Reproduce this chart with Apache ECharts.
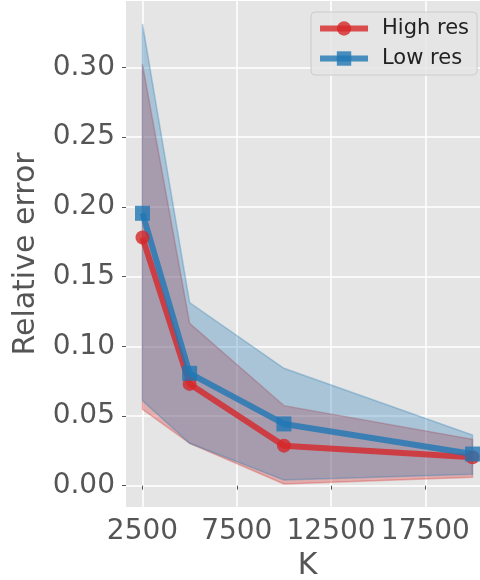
<!DOCTYPE html>
<html>
<head>
<meta charset="utf-8">
<script src="https://cdn.jsdelivr.net/npm/echarts@6/dist/echarts.min.js"></script>
<style>
html,body{margin:0;padding:0;background:#fff;}
#chart{width:480px;height:580px;}
</style>
</head>
<body>
<div id="chart"></div>
<script>
const kValues = [2500, 5000, 10000, 20000];
const highMean = [0.178, 0.073, 0.0287, 0.0204];
const highUpper = [0.3023, 0.1165, 0.0574, 0.0333];
const highLower = [0.0548, 0.0304, 0.0012, 0.0060];
const lowMean = [0.1954, 0.0806, 0.0443, 0.0227];
const lowUpper = [0.3312, 0.1313, 0.0842, 0.0364];
const lowLower = [0.0610, 0.0304, 0.0041, 0.0082];
const xTicks = [2500, 7500, 12500, 17500];
const yTicks = [0, 0.05, 0.10, 0.15, 0.20, 0.25, 0.30];

const RED = '#d62728', BLUE = '#1f77b4';
const FONT = '"DejaVu Sans", sans-serif';

function band(upper, lower, color, name) {
  return {
    type: 'custom',
    name: name + ' band',
    z: 1,
    silent: true,
    data: kValues.map((k, i) => [k, upper[i], lower[i]]),
    renderItem: function (params, api) {
      if (params.dataIndex !== 0) return null;
      const pts = [];
      for (let i = 0; i < kValues.length; i++) pts.push(api.coord([kValues[i], upper[i]]));
      for (let i = kValues.length - 1; i >= 0; i--) pts.push(api.coord([kValues[i], lower[i]]));
      return {
        type: 'polygon',
        shape: { points: pts },
        style: { fill: color, opacity: 0.3, stroke: color, lineWidth: 1.5 }
      };
    }
  };
}

function line(name, vals, color, symbol, size) {
  return {
    type: 'line',
    name: name,
    z: 3,
    data: kValues.map((k, i) => [k, vals[i]]),
    symbol: symbol,
    symbolSize: size,
    showSymbol: true,
    lineStyle: { color: color, width: 6, opacity: 0.8 },
    itemStyle: { color: color, opacity: 0.8 },
    emphasis: { disabled: true }
  };
}

const chart = echarts.init(document.getElementById('chart'), null, { renderer: 'canvas' });
chart.setOption({
  animation: false,
  backgroundColor: '#ffffff',
  grid: {
    left: 126, top: 1, width: 363, height: 506,
    outerBoundsMode: 'none', containLabel: false,
    show: true, backgroundColor: '#e5e5e5', borderWidth: 0
  },
  xAxis: {
    type: 'value', min: 1625, max: 20875,
    name: 'K', nameLocation: 'middle', nameGap: 44,
    nameTextStyle: { fontFamily: FONT, fontSize: 30, color: '#555555' },
    axisLine: { show: false },
    axisTick: { show: true, length: 4, lineStyle: { color: '#555555', width: 1 }, customValues: xTicks },
    axisLabel: { fontFamily: FONT, fontSize: 28, color: '#555555', margin: 11, customValues: xTicks,
      hideOverlap: false, showMinLabel: true, showMaxLabel: true,
      formatter: v => String(v) },
    splitLine: { show: true, lineStyle: { color: '#ffffff', width: 1.5 } }
  },
  yAxis: {
    type: 'value', min: -0.0153, max: 0.3477,
    name: 'Relative error', nameLocation: 'middle', nameGap: 85,
    nameTextStyle: { fontFamily: FONT, fontSize: 30, color: '#555555' },
    axisLine: { show: false },
    axisTick: { show: true, length: 4, lineStyle: { color: '#555555', width: 1 }, customValues: yTicks },
    axisLabel: { fontFamily: FONT, fontSize: 28, color: '#555555', margin: 11, customValues: yTicks,
      formatter: v => v.toFixed(2) },
    splitLine: { show: true, lineStyle: { color: '#ffffff', width: 1.5 } }
  },
  legend: {
    data: ['High res', 'Low res'],
    orient: 'vertical',
    right: 3, top: 12,
    padding: [6, 8, 6, 6],
    itemGap: 9,
    itemWidth: 48, itemHeight: 18,
    lineStyle: { width: 6 },
    backgroundColor: 'rgba(229,229,229,0.8)',
    borderColor: '#cccccc', borderWidth: 1, borderRadius: 4,
    textStyle: { fontFamily: FONT, fontSize: 21, color: '#222222', padding: [0, 0, 0, 9] }
  },
  series: [
    band(highUpper, highLower, RED, 'High res'),
    band(lowUpper, lowLower, BLUE, 'Low res'),
    line('High res', highMean, RED, 'circle', 14),
    line('Low res', lowMean, BLUE, 'rect', 15)
  ]
});
</script>
</body>
</html>
